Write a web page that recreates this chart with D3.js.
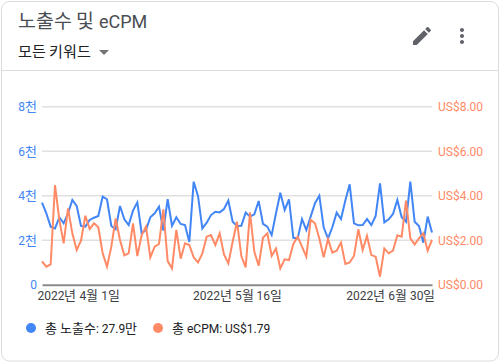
<!DOCTYPE html>
<html>
<head>
<meta charset="utf-8">
<script src="https://cdn.jsdelivr.net/npm/d3@7"></script>
<style>
@font-face {
  font-family: "KrWide";
  src: local("Noto Sans CJK KR"), local("Noto Sans CJK KR Regular"), local("NotoSansCJKkr-Regular");
  size-adjust: 108%;
}
html, body { margin: 0; padding: 0; background: #fff; }
svg { display: block; }
text { font-family: Roboto, "KrWide", "Noto Sans CJK KR", sans-serif; }
</style>
</head>
<body>
<div id="chart"></div>
<script>
// Valores (01/04/2022 a 30/06/2022)
const startDate = new Date(2022, 3, 1);
const impressions = [
  3690, 3210, 2610, 2530, 3030, 2760, 3210, 3810, 3540, 2640,
  2610, 2910, 3010, 3090, 3960, 3840, 2640, 2490, 3540, 2940,
  2680, 3330, 3700, 2310, 2460, 3030, 3210, 3510, 2430, 3840,
  2650, 3030, 2730, 2680, 1920, 4630, 3990, 2530, 2790, 3130,
  3280, 3250, 3400, 3780, 2830, 2640, 2650, 3240, 3060, 3160,
  3760, 2730, 2610, 2230, 3210, 4130, 3360, 3840, 2110, 2080,
  2950, 2460, 3060, 3660, 4000, 2580, 2080, 2580, 3240, 2950,
  3780, 4510, 2760, 2670, 2680, 2950, 2680, 3090, 4550, 2800,
  2940, 3180, 3810, 3030, 2830, 4630, 2830, 2640, 1890, 3060,
  2350
];
const ecpm = [
  1.05, 0.81, 0.91, 4.48, 2.91, 1.86, 3.43, 2.31, 1.56, 1.98,
  3.10, 2.50, 2.76, 2.58, 1.41, 0.81, 1.71, 2.98, 2.01, 1.32,
  1.41, 2.76, 1.29, 2.23, 2.61, 1.23, 1.71, 1.83, 3.39, 1.06,
  0.73, 2.46, 1.17, 1.86, 1.78, 1.23, 1.00, 1.41, 2.16, 2.23,
  1.78, 2.31, 1.36, 0.96, 1.93, 2.83, 1.29, 0.78, 3.25, 1.48,
  0.85, 2.11, 2.31, 1.29, 1.63, 0.73, 1.14, 1.11, 1.83, 2.16,
  1.71, 1.26, 2.91, 2.76, 2.08, 1.23, 2.05, 1.44, 1.53, 1.89,
  0.93, 1.00, 1.29, 2.49, 1.56, 2.19, 1.33, 1.26, 0.36, 1.63,
  1.41, 1.53, 2.22, 2.16, 3.78, 2.08, 1.81, 2.08, 2.31, 1.53,
  2.01
];
const leftTicks = [0, 2000, 4000, 6000, 8000];
const rightTicks = [0, 2, 4, 6, 8];
const dateTicks = [new Date(2022, 3, 1), new Date(2022, 4, 16), new Date(2022, 5, 30)];

const dates = impressions.map((d, i) => d3.timeDay.offset(startDate, i));

const blue = "#4285f4";
const orange = "#ff8a65";
const fontStack = 'Roboto, "KrWide", "Noto Sans CJK KR", sans-serif';

const svg = d3.select("#chart").append("svg")
    .attr("width", 500)
    .attr("height", 363);

// Cartão
svg.append("rect")
    .attr("x", 1.5).attr("y", 1.5)
    .attr("width", 497).attr("height", 359.5)
    .attr("rx", 8)
    .attr("fill", "#fff")
    .attr("stroke", "#dadce0")
    .attr("stroke-width", 1);

svg.append("line")
    .attr("x1", 2).attr("x2", 498)
    .attr("y1", 70.5).attr("y2", 70.5)
    .attr("stroke", "#dadce0");

// Cabeçalho
svg.append("text")
    .attr("x", 18).attr("y", 28)
    .attr("font-size", 18)
    .attr("fill", "#4a4e52")
    .text("노출수 및 eCPM");

svg.append("text")
    .attr("x", 18).attr("y", 57)
    .attr("font-size", 14)
    .attr("fill", "#202124")
    .text("모든 키워드");

svg.append("path")
    .attr("d", "M99 50h10l-5 5z")
    .attr("fill", "#757575");

svg.append("path")
    .attr("transform", "translate(410,24)")
    .attr("d", "M3 17.25V21h3.75L17.81 9.94l-3.75-3.75L3 17.25zM20.71 7.04c.39-.39.39-1.02 0-1.41l-2.34-2.34c-.39-.39-1.02-.39-1.41 0l-1.83 1.83 3.75 3.75 1.83-1.83z")
    .attr("fill", "#5f6368");

svg.append("path")
    .attr("transform", "translate(450,24)")
    .attr("d", "M12 8c1.1 0 2-.9 2-2s-.9-2-2-2-2 .9-2 2 .9 2 2 2zm0 2c-1.1 0-2 .9-2 2s.9 2 2 2 2-.9 2-2-.9-2-2-2zm0 6c-1.1 0-2 .9-2 2s.9 2 2 2 2-.9 2-2-.9-2-2-2z")
    .attr("fill", "#5f6368");

// Escalas
const xScale = d3.scaleTime()
    .domain([dates[0], dates[dates.length - 1]])
    .range([42, 432]);

const yLeft = d3.scaleLinear().domain([0, 8000]).range([284.7, 106.7]);
const yRight = d3.scaleLinear().domain([0, 8]).range([284.7, 106.7]);

// Grade
svg.append("g")
    .selectAll("line")
    .data(leftTicks.slice(1))
    .enter().append("line")
    .attr("x1", 42).attr("x2", 432)
    .attr("y1", d => yLeft(d)).attr("y2", d => yLeft(d))
    .attr("stroke", "#e0e0e0")
    .attr("stroke-width", 1.5);

// Eixos
const axisLeft = d3.axisLeft(yLeft)
    .tickValues(leftTicks)
    .tickSize(0)
    .tickPadding(5)
    .tickFormat(d => d === 0 ? "0" : (d / 1000) + "천");

const gLeft = svg.append("g")
    .attr("transform", "translate(42,0)")
    .call(axisLeft);
gLeft.select(".domain").remove();
gLeft.selectAll("text")
    .attr("fill", blue)
    .attr("font-size", 12)
    .style("font-family", fontStack);

const axisRight = d3.axisRight(yRight)
    .tickValues(rightTicks)
    .tickSize(0)
    .tickPadding(6)
    .tickFormat(d => "US$" + d.toFixed(2));

const gRight = svg.append("g")
    .attr("transform", "translate(432,0)")
    .call(axisRight);
gRight.select(".domain").remove();
gRight.selectAll("text")
    .attr("fill", orange)
    .attr("font-size", 12)
    .style("font-family", fontStack);

const axisBottom = d3.axisBottom(xScale)
    .tickValues(dateTicks)
    .tickSize(0)
    .tickPadding(7)
    .tickFormat(d => `${d.getFullYear()}년 ${d.getMonth() + 1}월 ${d.getDate()}일`);

const gBottom = svg.append("g")
    .attr("transform", "translate(0,284.7)")
    .call(axisBottom);
gBottom.select(".domain")
    .attr("stroke", "#8a8a8a")
    .attr("stroke-width", 2);
gBottom.selectAll("text")
    .attr("fill", "#3c4043")
    .attr("font-size", 12)
    .style("font-family", fontStack);
// O primeiro e o último rótulo ficam presos às pontas
gBottom.selectAll("text").filter((d, i) => i === 0)
    .attr("text-anchor", "start").attr("dx", -5);
gBottom.selectAll("text").filter((d, i) => i === 2)
    .attr("text-anchor", "end").attr("dx", 3);

// Linhas
const lineImpr = d3.line()
    .x((d, i) => xScale(dates[i]))
    .y(d => yLeft(d));

const lineEcpm = d3.line()
    .x((d, i) => xScale(dates[i]))
    .y(d => yRight(d));

svg.append("path")
    .datum(impressions)
    .attr("fill", "none")
    .attr("stroke", blue)
    .attr("stroke-width", 2)
    .attr("d", lineImpr);

svg.append("path")
    .datum(ecpm)
    .attr("fill", "none")
    .attr("stroke", orange)
    .attr("stroke-width", 2)
    .attr("d", lineEcpm);

// Legenda
const legendItems = [
    { x: 31, color: blue, label: "총 노출수: 27.9만" },
    { x: 158, color: orange, label: "총 eCPM: US$1.79" }
];

const legend = svg.append("g");
legend.selectAll("circle")
    .data(legendItems)
    .enter().append("circle")
    .attr("cx", d => d.x)
    .attr("cy", 328)
    .attr("r", 5)
    .attr("fill", d => d.color);

legend.selectAll("text")
    .data(legendItems)
    .enter().append("text")
    .attr("x", d => d.x + 14)
    .attr("y", 333)
    .attr("font-size", 12)
    .attr("fill", "#202124")
    .text(d => d.label);
</script>
</body>
</html>
